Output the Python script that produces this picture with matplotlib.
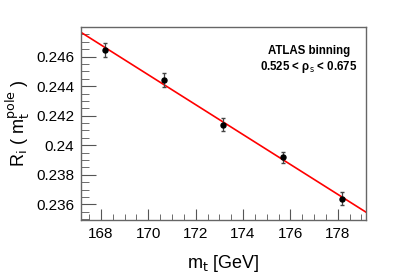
import numpy as np
import matplotlib.pyplot as plt
from matplotlib.ticker import MultipleLocator

plt.rcParams['font.family'] = ['Liberation Sans', 'DejaVu Sans']

# top mass points and ratio values
mt = [168.17, 170.66, 173.15, 175.68, 178.18]
ratio = [0.24643, 0.24442, 0.24139, 0.23919, 0.23638]
ratio_err = [0.00047, 0.00047, 0.00045, 0.00038, 0.00043]

fig = plt.figure(figsize=(4.07, 2.76), dpi=100)
ax = fig.add_axes([81 / 407, 1 - 220 / 276, 285 / 407, 193 / 276])

xlo, xhi = 167.16, 179.19
# straight line fit through the points
p = np.polyfit(mt, ratio, 1)
xs = np.array([xlo, xhi])
ax.plot(xs, np.polyval(p, xs), color='red', lw=1.2, zorder=2)

ax.errorbar(mt, ratio, yerr=ratio_err, fmt='o', color='black', ms=3.6,
            ecolor='#444444', elinewidth=0.9, capsize=1.5, zorder=3)

ax.set_xlim(xlo, xhi)
ax.set_ylim(0.23494, 0.248)
ax.xaxis.set_major_locator(MultipleLocator(2))
ax.xaxis.set_minor_locator(MultipleLocator(0.5))
ax.yaxis.set_major_locator(MultipleLocator(0.002))
ax.yaxis.set_minor_locator(MultipleLocator(0.0005))
ax.set_yticks([0.236, 0.238, 0.24, 0.242, 0.244, 0.246])
ax.set_yticklabels(['0.236', '0.238', '0.24', '0.242', '0.244', '0.246'])

ax.tick_params(which='both', direction='in', top=False, right=False,
               labelsize=11, color='#555555', pad=5)
ax.tick_params(axis='x', which='major', length=8)
ax.tick_params(axis='x', which='minor', length=4)
ax.tick_params(axis='y', which='major', length=11)
ax.tick_params(axis='y', which='minor', length=6)
for s in ax.spines.values():
    s.set_color('#666666')
    s.set_linewidth(1.0)

ax.set_xlabel(r'm$_{\mathrm{t}}$ [GeV]', fontsize=13, labelpad=9)
ax.set_ylabel(r'R$_{\mathrm{i}}$ ( m$_{\mathrm{t}}^{\mathrm{pole}}$ )', fontsize=13,
              labelpad=3)

ax.text(0.8, 0.875, 'ATLAS binning', transform=ax.transAxes, ha='center',
        va='center', fontsize=8.3, fontweight='bold')
ax.text(0.8, 0.795, '0.525 < ρ$_{\\mathrm{s}}$ < 0.675', transform=ax.transAxes,
        ha='center', va='center', fontsize=8.3, fontweight='bold')

fig.savefig('out.png', dpi=100)
